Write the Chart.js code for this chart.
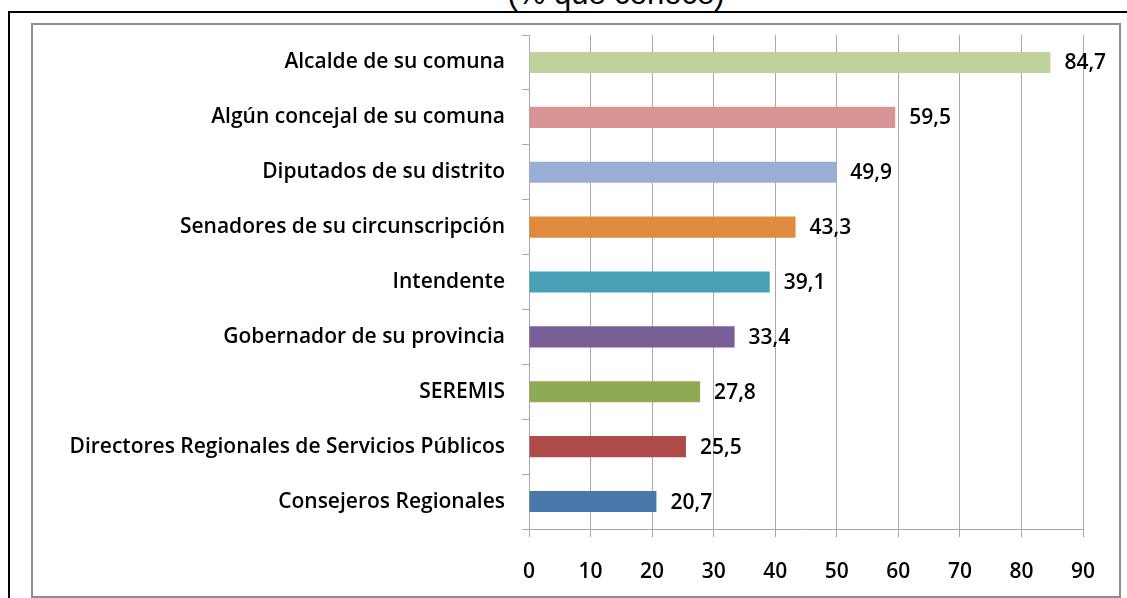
<!DOCTYPE html>
<html>
<head>
<meta charset="utf-8">
<script src="https://cdn.jsdelivr.net/npm/chart.js"></script>
<style>
  body { margin: 0; background: #fff; }
  #wrap { position: relative; width: 1127px; height: 598px; overflow: hidden; background: #fff; }
  #title { position: absolute; left: 416px; width: 400px; top: -22px; text-align: center;
           font: 31px/31px "Liberation Sans", Arial, sans-serif; color: #000; }
  #outer { position: absolute; left: 8px; top: 11px; width: 1140px; height: 620px;
           border: 2px solid #000; box-sizing: border-box; }
  #inner { position: absolute; left: 31px; top: 23px; width: 1090px; height: 575px;
           border: 2px solid #8e8e8e; box-sizing: border-box; }
  canvas { position: absolute; left: 0; top: 0; }
</style>
</head>
<body>
<div id="wrap">
  <div id="title">(% que conoce)</div>
  <div id="outer"></div>
  <div id="inner"></div>
  <canvas id="knowChart" width="1127" height="598"></canvas>
</div>
<script>
// Categories, top to bottom
const categories = [
  'Alcalde de su comuna',
  'Algún concejal de su comuna',
  'Diputados de su distrito',
  'Senadores de su circunscripción',
  'Intendente',
  'Gobernador de su provincia',
  'SEREMIS',
  'Directores Regionales de Servicios Públicos',
  'Consejeros Regionales'
];

// % que conoce
const values = [84.7, 59.5, 49.9, 43.3, 39.1, 33.4, 27.8, 25.5, 20.7];

const barColors = [
  '#bfd19d', '#d69594', '#98aed6', '#e08a3f', '#47a0b6',
  '#7a5e98', '#8eaa52', '#ae4b48', '#4b78ab'
];

const xTicks = [0, 10, 20, 30, 40, 50, 60, 70, 80, 90];

const gridColor = '#a8a8a8';

// Draw the value next to each bar, with decimal comma
const valueLabels = {
  id: 'valueLabels',
  afterDatasetsDraw(chart) {
    const ctx = chart.ctx;
    const meta = chart.getDatasetMeta(0);
    ctx.save();
    ctx.font = '600 21px "Open Sans", sans-serif';
    ctx.fillStyle = '#000';
    ctx.textAlign = 'left';
    ctx.textBaseline = 'middle';
    meta.data.forEach(function(bar, i) {
      const txt = values[i].toFixed(1).replace('.', ',');
      ctx.fillText(txt, bar.x + 14, bar.y + 1);
    });
    ctx.restore();
  }
};

new Chart(document.getElementById('knowChart'), {
  type: 'bar',
  data: {
    labels: categories,
    datasets: [{
      data: values,
      backgroundColor: barColors,
      borderWidth: 0,
      barPercentage: 0.385,
      categoryPercentage: 1
    }]
  },
  options: {
    indexAxis: 'y',
    responsive: false,
    animation: false,
    layout: {
      padding: { top: 35, right: 44, bottom: 0, left: 0 }
    },
    plugins: {
      legend: { display: false },
      tooltip: { enabled: false }
    },
    scales: {
      x: {
        min: 0,
        max: 90,
        afterFit: function(scale) { scale.height = 69; },
        afterBuildTicks: function(scale) {
          scale.ticks = xTicks.map(v => ({ value: v }));
        },
        grid: {
          color: gridColor,
          tickLength: 8
        },
        border: { display: true, color: gridColor },
        ticks: {
          padding: 22,
          color: '#000',
          font: { family: 'Open Sans', size: 21, weight: '600' },
          maxRotation: 0
        }
      },
      y: {
        afterFit: function(scale) { scale.width = 529; },
        grid: {
          offset: true,
          drawOnChartArea: false,
          drawTicks: true,
          tickLength: 7,
          color: gridColor
        },
        border: { display: true, color: gridColor },
        ticks: {
          padding: 17,
          color: '#000',
          font: { family: 'Open Sans', size: 21, weight: '600' }
        }
      }
    }
  },
  plugins: [valueLabels]
});
</script>
</body>
</html>
